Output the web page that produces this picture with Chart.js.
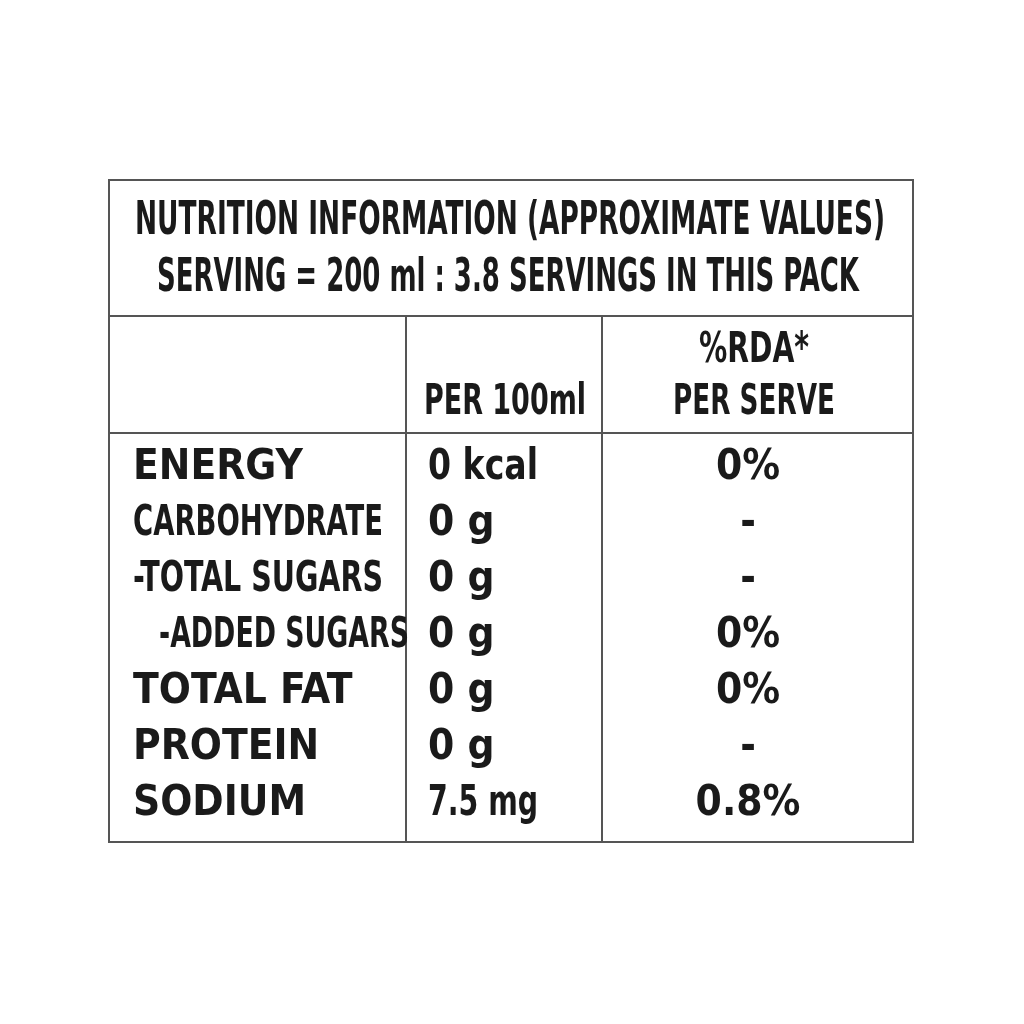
<!DOCTYPE html>
<html>
<head>
<meta charset="utf-8">
<script src="https://cdn.jsdelivr.net/npm/chart.js@4"></script>
<style>
  html, body { margin: 0; background: #fff; }
  #wrap { width: 1024px; height: 1024px; }
</style>
</head>
<body>
<div id="wrap"><canvas id="c"></canvas></div>
<script>
const titleLines = ["NUTRITION INFORMATION (APPROXIMATE VALUES)", "SERVING = 200 ml : 3.8 SERVINGS IN THIS PACK"];
const headers = ["", "PER 100ml", "%RDA*\nPER SERVE"];
const nutrients = ["ENERGY", "CARBOHYDRATE", "-TOTAL SUGARS", "  -ADDED SUGARS", "TOTAL FAT", "PROTEIN", "SODIUM"];
const per100ml = ["0 kcal", "0 g", "0 g", "0 g", "0 g", "0 g", "7.5 mg"];
const rdaPerServe = ["0%", "-", "-", "0%", "0%", "-", "0.8%"];

const FONT = "'Liberation Sans Narrow', 'DejaVu Sans Condensed', sans-serif";
const INK = "#1a1a1a";

const tablePlugin = {
  id: "nutritionTable",
  afterDraw(chart) {
    const { ctx, chartArea: a, scales: { y } } = chart;
    const left = 109, right = 913, top = 180, bottom = a.bottom + 10;
    const col1 = 406, col2 = 602, titleBottom = 316, headBottom = 433;
    ctx.save();
    ctx.strokeStyle = "#555";
    ctx.lineWidth = 2;
    ctx.strokeRect(left, top, right - left, bottom - top);
    ctx.beginPath();
    ctx.moveTo(left, titleBottom); ctx.lineTo(right, titleBottom);
    ctx.moveTo(left, headBottom); ctx.lineTo(right, headBottom);
    ctx.moveTo(col1, titleBottom); ctx.lineTo(col1, bottom);
    ctx.moveTo(col2, titleBottom); ctx.lineTo(col2, bottom);
    ctx.stroke();

    ctx.fillStyle = INK;
    ctx.textBaseline = "middle";
    ctx.textAlign = "center";
    ctx.font = "bold 46px " + FONT;
    ctx.fillText(titleLines[0], 510, 222, 750);
    ctx.fillText(titleLines[1], 508, 279, 702);

    ctx.font = "bold 42px " + FONT;
    ctx.fillText(headers[1], 505, 403, 162);
    const h = headers[2].split("\n");
    ctx.fillText(h[0], 754, 351, 110);
    ctx.fillText(h[1], 754, 403, 162);

    nutrients.forEach((n, i) => {
      const py = y.getPixelForValue(i);
      ctx.textAlign = "left";
      const indent = n.startsWith("  ") ? 26 : 0;
      const txt = n.trim();
      ctx.fillText(txt, 133 + indent, py, 250);
      ctx.fillText(per100ml[i], 428, py, 110);
      ctx.textAlign = "center";
      ctx.fillText(rdaPerServe[i], 748, py);
    });
    ctx.restore();
  }
};

new Chart(document.getElementById("c"), {
  type: "bar",
  data: {
    labels: nutrients,
    datasets: [{ data: nutrients.map(() => 0), backgroundColor: "transparent" }]
  },
  options: {
    indexAxis: "y",
    responsive: true,
    maintainAspectRatio: false,
    animation: false,
    layout: { padding: { top: 440, bottom: 192, left: 109, right: 111 } },
    plugins: { legend: { display: false }, tooltip: { enabled: false } },
    scales: {
      x: { display: false, min: 0, max: 1 },
      y: { display: false, offset: true }
    }
  },
  plugins: [tablePlugin]
});
</script>
</body>
</html>
